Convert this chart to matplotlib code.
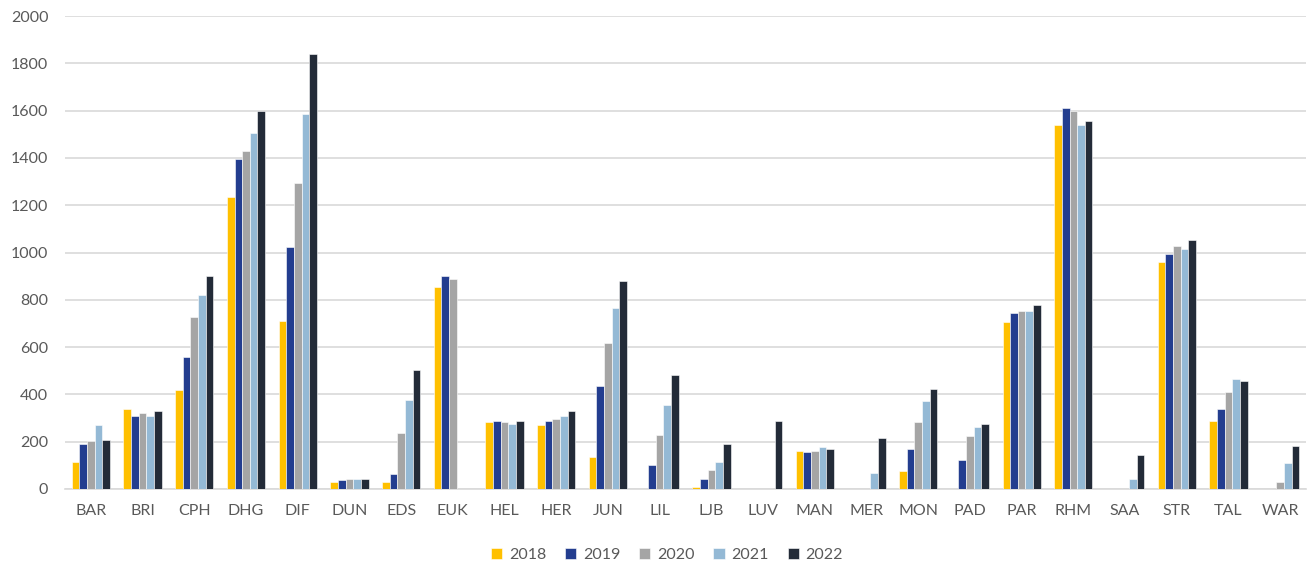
# bar chart of yearly counts per site, 2018-2022

import numpy as np
import matplotlib.pyplot as plt

plt.rcParams['font.family'] = ['Lato', 'DejaVu Sans']

sites = ['BAR', 'BRI', 'CPH', 'DHG', 'DIF', 'DUN', 'EDS', 'EUK', 'HEL', 'HER',
         'JUN', 'LIL', 'LJB', 'LUV', 'MAN', 'MER', 'MON', 'PAD', 'PAR', 'RHM',
         'SAA', 'STR', 'TAL', 'WAR']
years = ['2018', '2019', '2020', '2021', '2022']

v2018 = [116, 337, 419, 1236, 712, 28, 28, 853, 283, 269,
         135, 0, 7, 0, 162, 0, 75, 0, 706, 1538,
         0, 961, 289, 0]
v2019 = [189, 310, 558, 1397, 1022, 37, 62, 901, 289, 289,
         437, 101, 41, 0, 155, 0, 169, 121, 746, 1611,
         0, 994, 337, 0]
v2020 = [202, 323, 726, 1431, 1295, 41, 237, 887, 283, 296,
         619, 228, 82, 0, 162, 0, 283, 223, 753, 1598,
         0, 1028, 410, 28]
v2021 = [269, 310, 820, 1504, 1584, 41, 378, 0, 276, 310,
         767, 357, 116, 0, 176, 68, 371, 262, 753, 1538,
         41, 1013, 464, 109]
v2022 = [209, 330, 901, 1598, 1839, 41, 505, 0, 289, 330,
         880, 483, 189, 289, 169, 216, 424, 276, 779, 1557,
         142, 1054, 458, 182]

colors = ['#FFC000', '#233D8F', '#A5A5A5', '#94B9D5', '#232B38']

fig = plt.figure(figsize=(13.08, 5.62), dpi=100)
ax = fig.add_axes([0.0497, 0.1299, 0.9488, 0.8416])

x = np.arange(len(sites))
w = 0.148
series = [v2018, v2019, v2020, v2021, v2022]
for i, vals in enumerate(series):
    ax.bar(x + (i - 2) * w, vals, width=w, color=colors[i], label=years[i],
           edgecolor='white', linewidth=0.4, zorder=3)

ax.set_xlim(-0.5, len(sites) - 0.5)
ax.set_ylim(0, 2000)
ax.set_yticks(range(0, 2001, 200))
ax.set_xticks(x)
ax.set_xticklabels(sites)
ax.yaxis.grid(True, color='#D9D9D9', linewidth=1.2, zorder=0)
for s in ['top', 'right', 'left']:
    ax.spines[s].set_visible(False)
ax.spines['bottom'].set_color('#D9D9D9')
ax.spines['bottom'].set_linewidth(1.2)
ax.tick_params(axis='both', length=0, labelsize=11.5, labelcolor='#595959')
ax.tick_params(axis='x', pad=11)
ax.tick_params(axis='y', pad=12)

ax.legend(loc='center', bbox_to_anchor=(0.485, -0.14), ncol=5, frameon=False,
          fontsize=11.5, labelcolor='#595959', handlelength=0.7, handleheight=0.7,
          handletextpad=0.4, columnspacing=1.2)

fig.savefig('out.png', dpi=100)
